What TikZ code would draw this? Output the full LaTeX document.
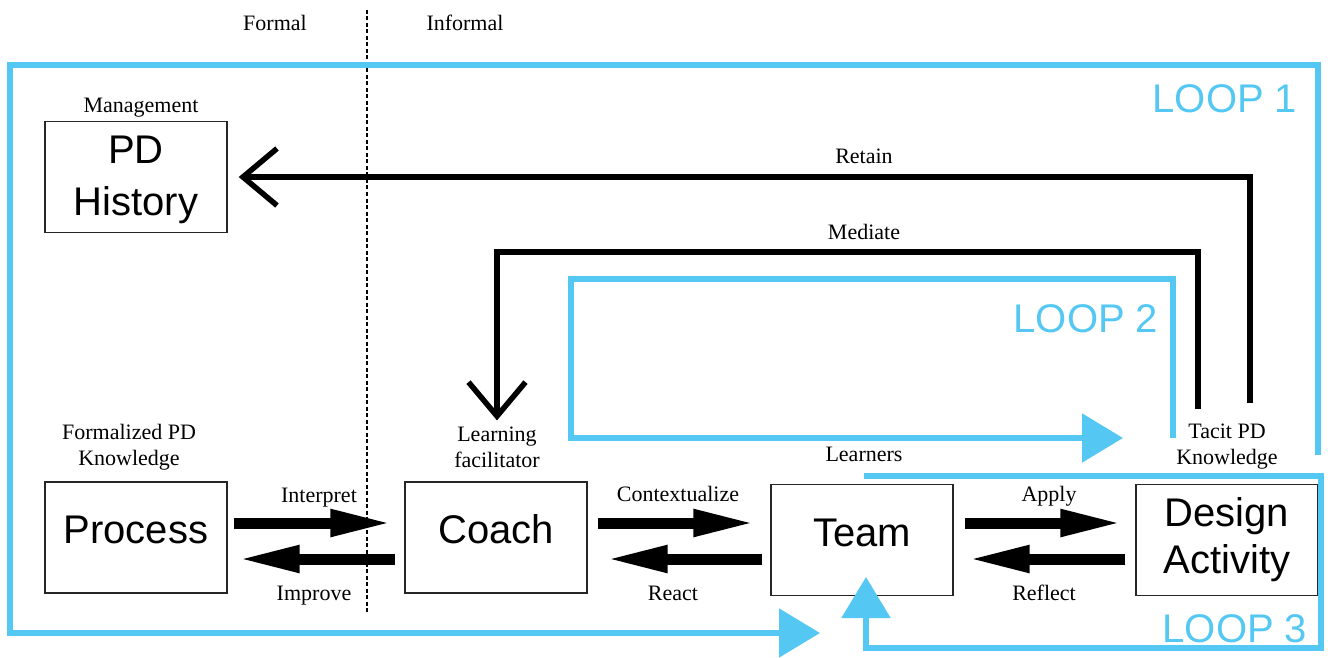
\documentclass[tikz,border=0pt]{standalone}
\usepackage{fontspec}
\setmainfont{Liberation Serif}
\newfontfamily\boxfont{Liberation Sans}
\usetikzlibrary{arrows.meta,calc}
\definecolor{loopblue}{RGB}{84,200,242}
\begin{document}
\begin{tikzpicture}[x=1pt,y=-1pt,
  box/.style={draw=black!85,line width=1.4pt,minimum width=182pt,minimum height=111pt,inner sep=0pt,font=\boxfont\fontsize{40}{47}\selectfont,align=center},
  onebox/.style={box,text height=29pt,text depth=17pt},
  lbl/.style={inner sep=0pt,font=\fontsize{22}{26}\selectfont,align=center},
  fat/.style={line width=11pt,-{Triangle[length=62pt,width=25pt]}},
  openarrow/.style={line width=5.5pt,-{Straight Barb[length=34pt,width=57pt,sharp]}},
  loopline/.style={draw=loopblue,line width=5.5pt,line join=miter,-{Triangle[length=41pt,width=48pt]}},
  looptext/.style={text=loopblue,inner sep=0pt,font=\boxfont\fontsize{40}{47}\selectfont,anchor=base}
]
\useasboundingbox (0,0) rectangle (1328,658);

% boxes
\node[box,font=\boxfont\fontsize{40}{52}\selectfont,text depth=2pt] (pdh) at (136,177) {PD\\History};
\node[onebox] (process) at (136,537.5) {Process};
\node[onebox] (coach) at (496,537.5) {Coach};
\node[onebox] (team) at (862,540) {Team};
\node[box] (design) at (1227,540) {Design\\Activity};

% labels
\node[lbl,anchor=base] (formal) at (275,31) {Formal};
\node[lbl,anchor=base] (informal) at (465,31) {Informal};
\node[lbl,anchor=base] (mgmt) at (141,113) {Management};
\node[lbl,anchor=base] (retain) at (864,164) {Retain};
\node[lbl,anchor=base] (mediate) at (864,239) {Mediate};
\node[lbl] (fpk) at (129,447) {Formalized PD\\Knowledge};
\node[lbl] (learn) at (497,447) {Learning\\facilitator};
\node[lbl,anchor=base] (learners) at (864,461) {Learners};
\node[lbl] (tacit) at (1227,447) {Tacit PD\\Knowledge};
\node[lbl,anchor=base] (interp) at (319,502) {Interpret};
\node[lbl,anchor=base] (improve) at (314,600) {Improve};
\node[lbl,anchor=base] (context) at (678,501) {Contextualize};
\node[lbl,anchor=base] (react) at (673,600) {React};
\node[lbl,anchor=base] (apply) at (1049,501) {Apply};
\node[lbl,anchor=base] (reflect) at (1044,600) {Reflect};

% divider
\coordinate (divtop) at (367,10);
\coordinate (divbot) at (367,612);
\draw[line width=2.2pt,dash pattern=on 4pt off 2.5pt] (divtop) -- (divbot);

% blue loops
\draw[loopline] (1318,455) -- (1318,65) -- (10,65) -- (10,633) -- (820,633);
\draw[loopline] (1173,438) -- (1173,279) -- (571,279) -- (571,438) -- (1123,438);
\draw[loopline] (864,476) -- (1321,476) -- (1321,648) -- (866,648) -- (866,577);
\node[looptext] (loop1) at (1225,113) {LOOP 1};
\node[looptext] (loop2) at (1086,332) {LOOP 2};
\node[looptext] (loop3) at (1235,642) {LOOP 3};

% black feedback arrows
\coordinate (retainstart) at (1250,403);
\draw[openarrow] (retainstart) |- ($(pdh.east)+(11,0)$);
\coordinate (mediatestart) at (1198,409);
\draw[openarrow] (mediatestart) -- (1198,252) -| ($(learn.north)+(0,-6)$);

% fat arrows
\draw[fat] ($(process.east)+(6,-14.5)$) -- ($(coach.west)+(-12,-14.5)$);
\draw[fat] ($(coach.west)+(-9,21.5)$) -- ($(process.east)+(10,21.5)$);
\draw[fat] ($(coach.east)+(10,-14.5)$) -- ($(team.west)+(-15,-17)$);
\draw[fat] ($(team.west)+(-8,19)$) -- ($(coach.east)+(18,21.5)$);
\draw[fat] ($(team.east)+(11,-17)$) -- ($(design.west)+(-13,-17)$);
\draw[fat] ($(design.west)+(-10,19)$) -- ($(team.east)+(14,19)$);
\end{tikzpicture}
\end{document}
